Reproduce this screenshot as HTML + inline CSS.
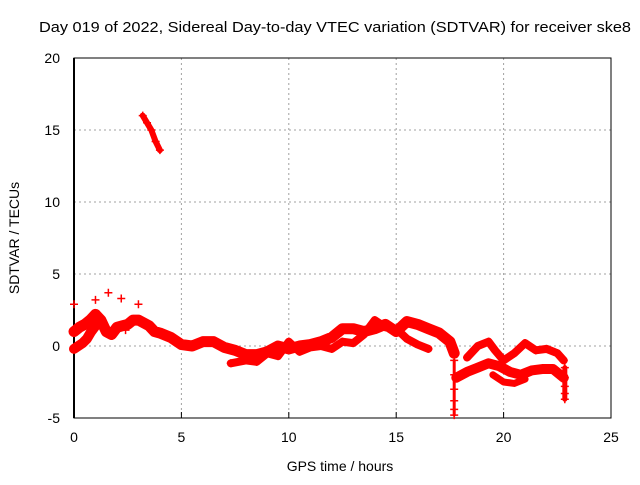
<!DOCTYPE html>
<html><head><meta charset="utf-8"><style>
body{margin:0;background:#fff;}
svg text{font-family:"Liberation Sans",sans-serif;font-size:14px;fill:#000;}
</style></head><body>
<svg id="chart" width="640" height="480" viewBox="0 0 640 480" xmlns="http://www.w3.org/2000/svg">
<text x="39" y="32" textLength="592" lengthAdjust="spacingAndGlyphs" style="font-size:15px">Day 019 of 2022, Sidereal Day-to-day VTEC variation (SDTVAR) for receiver ske8</text>
<g id="grid"></g>
<g id="axes"></g>
<g id="series"></g>
<text x="340" y="471" text-anchor="middle">GPS time / hours</text>
<text transform="translate(19,238) rotate(-90)" text-anchor="middle">SDTVAR / TECUs</text>
</svg>
<script>
const xTicks=[0,5,10,15,20,25];
const yTicks=[-5,0,5,10,15,20];
const mainT=[0,0.25,0.5,0.75,1,1.25,1.5,1.75,2,2.25,2.5,2.75,3,3.25,3.5,3.75,4,4.5,5,5.5,6,6.5,7,7.5,8,8.5,9,9.5,10,10.5,11,11.5,12,12.5,13,13.5,14,14.5,15,15.5,16,16.5,17,17.5,17.7];
const mainV=[1.0,1.3,1.5,1.8,2.2,1.8,1.0,0.8,1.3,1.4,1.5,1.8,1.8,1.6,1.4,1.0,0.9,0.6,0.1,0.0,0.3,0.3,-0.1,-0.3,-0.6,-0.6,-0.4,0.0,-0.2,0.0,0.1,0.3,0.6,1.2,1.2,1.0,1.2,1.5,1.0,1.7,1.5,1.2,0.9,0.3,-0.5];
const earlyT=[0,0.2,0.4,0.6,0.8,1.0];
const earlyV=[-0.2,0.0,0.2,0.5,1.0,1.4];
const lowT=[7.3,8,8.5,9,9.5,10,10.5,11,11.5,12,12.5,13,13.5,14,14.5,15,15.5,16,16.5];
const lowV=[-1.2,-1.0,-1.1,-0.5,-0.7,0.3,-0.4,-0.1,0.0,-0.2,0.3,0.2,0.8,1.8,1.3,1.2,0.5,0.1,-0.2];
const lateT=[17.8,18.3,18.8,19.3,19.8,20.3,20.8,21.3,21.8,22.3,22.8];
const lateV=[-2.2,-1.8,-1.5,-1.2,-1.4,-1.8,-2.0,-1.7,-1.6,-1.6,-2.2];
const upperT=[18.3,18.8,19.3,19.6,20,20.5,21,21.5,22,22.5,22.8];
const upperV=[-0.8,0.0,0.3,-0.3,-1.0,-0.5,0.2,-0.3,-0.2,-0.5,-1.0];
const bottomT=[19.5,20,20.5,21];
const bottomV=[-2.0,-2.5,-2.6,-2.3];
const highT=[3.2,3.4,3.6,3.8,4.0];
const highV=[16.0,15.5,15.0,14.2,13.6];
const spikeT=[17.7,17.7,17.7,17.7,17.7,17.7];
const spikeV=[-1.0,-2.0,-3.0,-3.8,-4.4,-4.8];
const endT=[22.85,22.85,22.85,22.85,22.85];
const endV=[-1.5,-2.2,-2.8,-3.3,-3.7];
const outT=[0.0,1.0,1.6,2.2,2.4,3.0];
const outV=[2.9,3.2,3.7,3.3,1.1,2.9];

const X0=74,X1=611,Y0=418,Y1=58;
const xs=t=>X0+(t-0)/25*(X1-X0);
const ys=v=>Y0-(v+5)/25*(Y0-Y1);
const NS="http://www.w3.org/2000/svg";
const grid=document.getElementById('grid'),axes=document.getElementById('axes'),ser=document.getElementById('series');
function mk(tag,attrs,parent){const e=document.createElementNS(NS,tag);for(const k in attrs)e.setAttribute(k,attrs[k]);parent.appendChild(e);return e;}
xTicks.forEach(t=>{
  if(t>0&&t<25){const g=mk('line',{x1:xs(t),x2:xs(t),y1:Y1,y2:Y0,stroke:'#a0a0a0','stroke-dasharray':'2,3'},grid);
  
  }
  const tk=mk('line',{x1:xs(t),x2:xs(t),y1:Y0,y2:Y0-6,stroke:'#000'},axes);
  
  
  const tx=mk('text',{x:xs(t),y:Y0+24,'text-anchor':'middle'},axes);tx.textContent=t;
  
  
});
yTicks.forEach(v=>{
  if(v>-5&&v<20){const g=mk('line',{x1:X0,x2:X1,y1:ys(v),y2:ys(v),stroke:'#a0a0a0','stroke-dasharray':'2,3'},grid);
  
  }
  const tx=mk('text',{x:X0-14,y:ys(v)+5,'text-anchor':'end'},axes);tx.textContent=v;
  
  
});
const box=mk('rect',{x:X0,y:Y1,width:X1-X0,height:Y0-Y1,fill:'none',stroke:'#000'},axes);


const z=mk('line',{x1:X0,x2:X0,y1:Y1,y2:Y0,stroke:'#000','stroke-width':2},axes);



function band(T,V,name,w){
  const p=mk('polyline',{points:T.map((t,i)=>xs(t)+','+ys(V[i])).join(' '),fill:'none',stroke:'#ff0000','stroke-width':w,'stroke-linejoin':'round','stroke-linecap':'round'},ser);
  
  
}
function marks(T,V,name){
  T.forEach((t,i)=>{const x=xs(t),y=ys(V[i]);
    const m=mk('path',{d:`M${x-4},${y}H${x+4}M${x},${y-4}V${y+4}`,stroke:'#ff0000','stroke-width':1.5},ser);
    
    });
}
band(mainT,mainV,'main-band',11);band(earlyT,earlyV,'early-band',10);band(lowT,lowV,'lower-band',8);band(lateT,lateV,'late-band',10);
band(upperT,upperV,'upper-late-band',8);band(bottomT,bottomV,'bottom-late-band',7);band(highT,highV,'high-band',6);
band(spikeT,spikeV,'spike',3);band(endT,endV,'end-drop',5);
[[mainT,mainV],[earlyT,earlyV],[lowT,lowV],[lateT,lateV],[upperT,upperV],[highT,highV],[spikeT,spikeV],[endT,endV],[outT,outV]].forEach(s=>marks(s[0],s[1],'data-point'));
</script>
</body></html>
